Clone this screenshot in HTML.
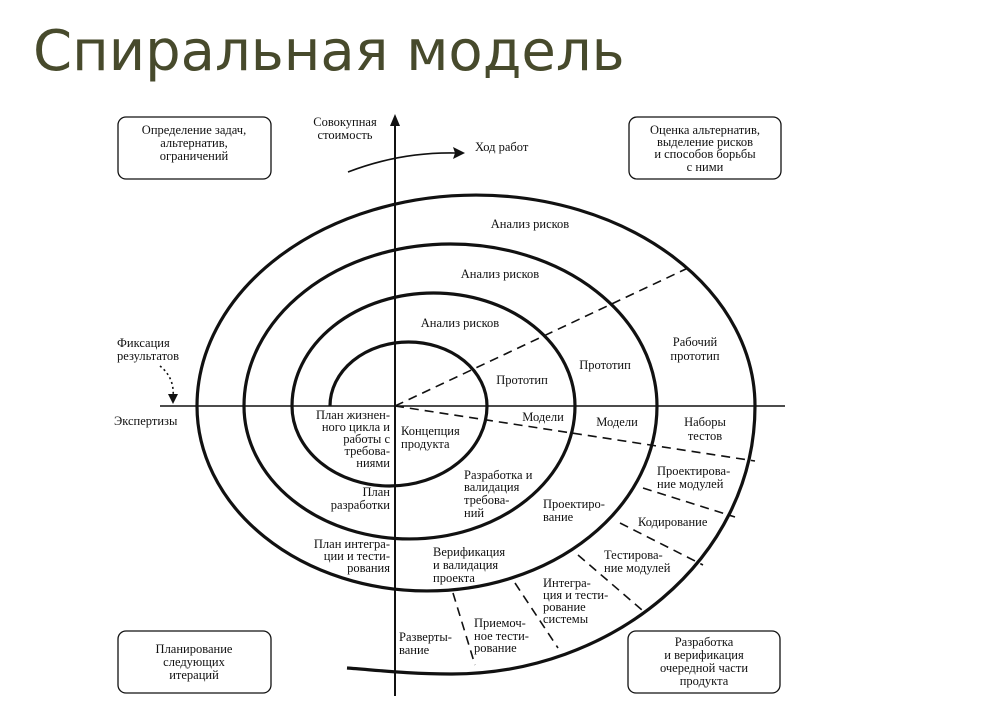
<!DOCTYPE html>
<html><head><meta charset="utf-8"><style>
html,body{margin:0;padding:0;background:#fff;width:985px;height:710px;overflow:hidden}
svg{display:block}
.t{font-family:"Liberation Serif","Noto Serif CJK SC",serif;font-size:12.5px;fill:#111}
</style></head><body>
<svg width="985" height="710" viewBox="0 0 985 710">
<text x="33" y="70" style="font-family:'DejaVu Sans','Liberation Sans',sans-serif;font-size:56px;fill:#474a2c">Спиральная модель</text>
<g fill="none" stroke="#111">
<rect x="118" y="117" width="153" height="62" rx="8" stroke-width="1.3"/>
<rect x="629" y="117" width="152" height="62" rx="8" stroke-width="1.3"/>
<rect x="118" y="631" width="153" height="62" rx="8" stroke-width="1.3"/>
<rect x="628" y="631" width="152" height="62" rx="8" stroke-width="1.3"/>
<line x1="395" y1="122" x2="395" y2="696" stroke-width="2"/>
<line x1="160" y1="406" x2="785" y2="406" stroke-width="1.5"/>
<path d="M330,406 A78.5,64 0 0 1 487,406 A97.5,80 0 0 1 292,406 A141.5,113 0 0 1 575,406 A165.5,133 0 0 1 244,406 A206.5,162 0 0 1 657,406 A230,185 0 0 1 197,406 A279,211 0 0 1 755,406 C755,560 610,675 450,674 C410,674 375,670 347,668" stroke-width="3.2"/>
<g stroke-width="1.6" stroke-dasharray="9,6">
<line x1="395" y1="406" x2="688" y2="268"/>
<line x1="395" y1="406" x2="755" y2="461"/>
<line x1="643" y1="488" x2="735" y2="517"/>
<line x1="620" y1="523" x2="703" y2="565"/>
<line x1="578" y1="555" x2="642" y2="610"/>
<line x1="515" y1="583" x2="558" y2="648"/>
<line x1="453" y1="593" x2="475" y2="665"/>
</g>
<path d="M348,172 Q400,152 455,153" stroke-width="1.6"/>
<path d="M160,366 Q175,378 173,398" stroke-width="1.6" stroke-dasharray="2,3"/>
</g>
<polygon points="395,114 390,126 400,126" fill="#111"/>
<polygon points="465,153 453,147 455,153 453,159" fill="#111"/>
<polygon points="173,404 168,394 178,394" fill="#111"/>
<g class="t" text-anchor="middle">
<text x="194" y="134">Определение задач,</text><text x="194" y="147">альтернатив,</text><text x="194" y="160">ограничений</text>
<text x="705" y="134">Оценка альтернатив,</text><text x="705" y="146">выделение рисков</text><text x="705" y="158">и способов борьбы</text><text x="705" y="171">с ними</text>
<text x="194" y="653">Планирование</text><text x="194" y="666">следующих</text><text x="194" y="679">итераций</text>
<text x="704" y="646">Разработка</text><text x="704" y="659">и верификация</text><text x="704" y="672">очередной части</text><text x="704" y="685">продукта</text>
<text x="345" y="126">Совокупная</text><text x="345" y="139">стоимость</text>
<text x="530" y="228">Анализ рисков</text><text x="500" y="278">Анализ рисков</text><text x="460" y="327">Анализ рисков</text>
<text x="522" y="384">Прототип</text><text x="605" y="369">Прототип</text>
<text x="695" y="346">Рабочий</text><text x="695" y="360">прототип</text>
<text x="543" y="421">Модели</text><text x="617" y="426">Модели</text>
<text x="705" y="426">Наборы</text><text x="705" y="440">тестов</text>
</g>
<g class="t">
<text x="475" y="151">Ход работ</text>
<text x="117" y="347">Фиксация</text><text x="117" y="360">результатов</text>
<text x="114" y="425">Экспертизы</text>
<text x="401" y="435">Концепция</text><text x="401" y="448">продукта</text>
<text x="464" y="479">Разработка и</text><text x="464" y="491">валидация</text><text x="464" y="504">требова-</text><text x="464" y="517">ний</text>
<text x="543" y="508">Проектиро-</text><text x="543" y="521">вание</text>
<text x="657" y="475">Проектирова-</text><text x="657" y="488">ние модулей</text>
<text x="638" y="526">Кодирование</text>
<text x="604" y="559">Тестирова-</text><text x="604" y="572">ние модулей</text>
<text x="433" y="556">Верификация</text><text x="433" y="569">и валидация</text><text x="433" y="582">проекта</text>
<text x="543" y="587">Интегра-</text><text x="543" y="599">ция и тести-</text><text x="543" y="611">рование</text><text x="543" y="623">системы</text>
<text x="474" y="627">Приемоч-</text><text x="474" y="640">ное тести-</text><text x="474" y="652">рование</text>
<text x="399" y="641">Разверты-</text><text x="399" y="654">вание</text>
</g>
<g class="t" text-anchor="end">
<text x="390" y="419">План жизнен-</text><text x="390" y="431">ного цикла и</text><text x="390" y="443">работы с</text><text x="390" y="455">требова-</text><text x="390" y="467">ниями</text>
<text x="390" y="496">План</text><text x="390" y="509">разработки</text>
<text x="390" y="548">План интегра-</text><text x="390" y="560">ции и тести-</text><text x="390" y="572">рования</text>
</g>
</svg>
</body></html>
